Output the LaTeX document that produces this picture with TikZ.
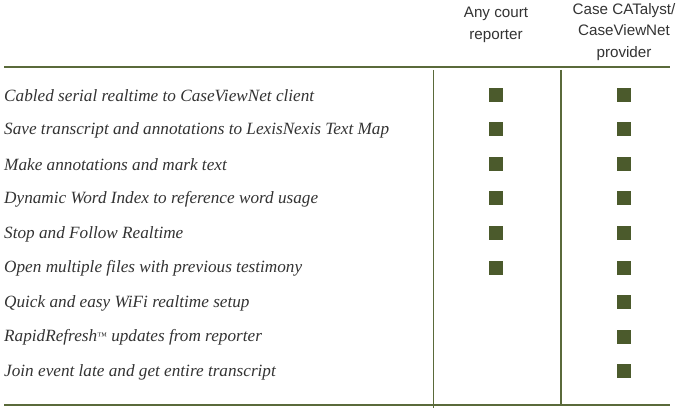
\documentclass[tikz,border=0pt]{standalone}
\usepackage{fontspec}
\setmainfont{Liberation Serif}
\newfontfamily\headfont{Liberation Sans}
\usetikzlibrary{positioning}
\definecolor{olive}{HTML}{5A6A3A}
\definecolor{tick}{HTML}{4B5A2C}
\definecolor{ink}{HTML}{333333}
\tikzset{
    rule/.style={draw=olive, line width=1.8pt},
    feature/.style={anchor=west, inner sep=0pt, font=\fontsize{17.2}{20}\selectfont\itshape, text=ink},
    header/.style={align=center, inner sep=0pt, font=\headfont\fontsize{15.2}{21.5}\selectfont, text=ink},
    tickbox/.style={fill=tick, minimum size=14pt, inner sep=0pt}
}
\begin{document}
\begin{tikzpicture}[x=1pt, y=-1pt]
    \useasboundingbox (0, 0) rectangle (684, 419);
    \node[header] (anycourt) at (496, 25) {Any court\\reporter};
    \node[header] (catalyst) at (624, 32) {Case CATalyst/\\CaseViewNet\\provider};
    \coordinate (tl) at (4, 67);
    \coordinate (tr) at (670, 67);
    \coordinate (bl) at (4, 405);
    \coordinate (br) at (670, 405);
    \coordinate (va) at (433.5, 70);
    \coordinate (vaend) at (433.5, 407.5);
    \coordinate (vb) at (561, 70);
    \coordinate (vbend) at (561, 405);
    \draw[rule] (tl) -- (tr);
    \draw[rule] (bl) -- (br);
    \draw[rule] (va) -- (vaend);
    \draw[rule] (vb) -- (vbend);
    % features, one row each
    \foreach \txt [count=\i] in {
        Cabled serial realtime to CaseViewNet client,
        Save transcript and annotations to LexisNexis Text Map,
        Make annotations and mark text,
        Dynamic Word Index to reference word usage,
        Stop and Follow Realtime,
        Open multiple files with previous testimony,
        Quick and easy WiFi realtime setup,
        RapidRefresh{\fontsize{10}{10}\selectfont\raisebox{2.5pt}{™}} updates from reporter,
        Join event late and get entire transcript}
    {
        \node[feature] (row\i) at (4, 61.5 + 34.5*\i) {\txt};
        \node[tickbox] (prov\i) at (624, 60.5 + 34.5*\i) {};
    }
    \foreach \i in {1,...,6}
        \node[tickbox] (any\i) at (496, 60.5 + 34.5*\i) {};
\end{tikzpicture}
\end{document}
